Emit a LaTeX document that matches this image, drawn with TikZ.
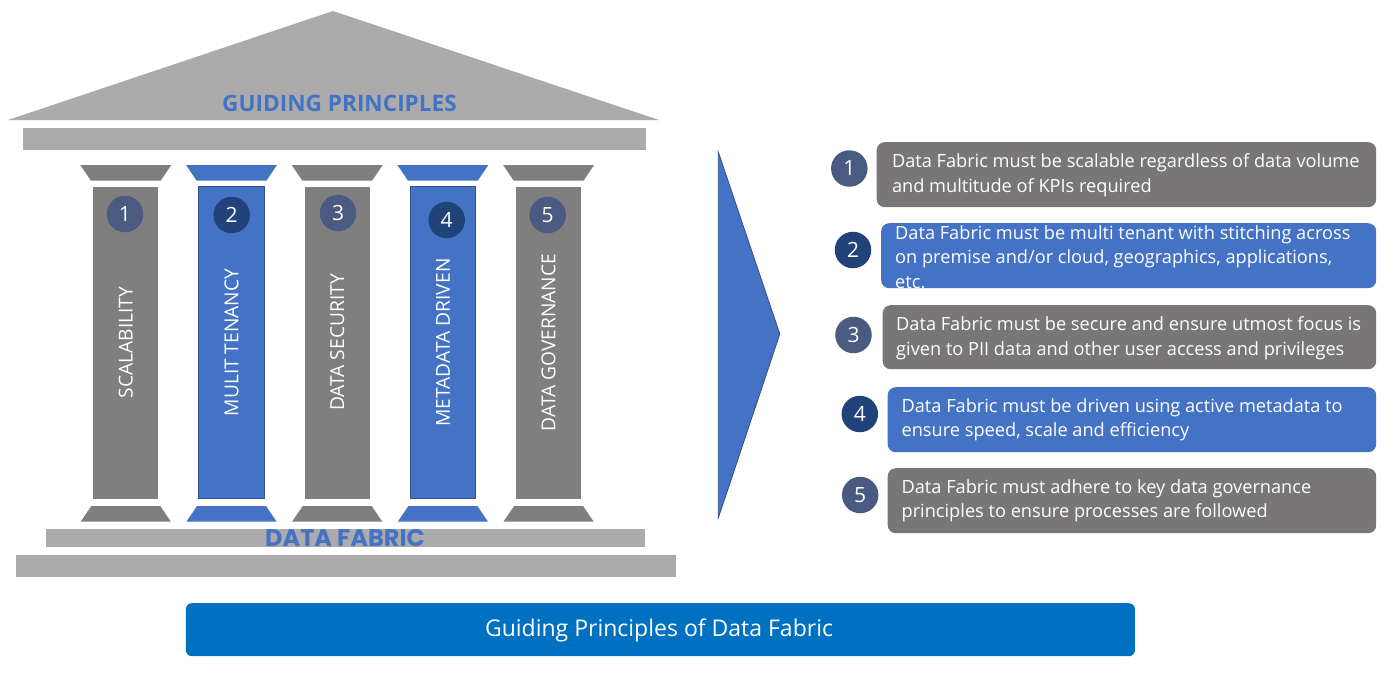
\documentclass[tikz,border=0pt]{standalone}
\usepackage{fontspec}
\setmainfont{Open Sans}
\newfontfamily\geofont{Poppins}
\definecolor{roofgray}{HTML}{ABABAB}
\definecolor{colgray}{HTML}{7F7F7F}
\definecolor{boxgray}{HTML}{787676}
\definecolor{pblue}{HTML}{4472C4}
\definecolor{pblueline}{HTML}{2F528F}
\definecolor{navy}{HTML}{22427A}
\definecolor{slate}{HTML}{4A5A80}
\definecolor{bannerblue}{HTML}{0070C0}
\begin{document}
\begin{tikzpicture}[x=1pt,y=-1pt,
  shaft/.style={rectangle, inner sep=0pt, minimum width=65pt, minimum height=311.5pt},
  numdisc/.style={circle, inner sep=0pt, minimum size=36.5pt, text=white,
    font=\fontsize{21}{24}\selectfont},
  pillartext/.style={rotate=90, text=white, inner sep=0pt,
    font=\fontsize{19.2}{22}\selectfont},
  headline/.style={text=pblue, inner sep=0pt},
  infobox/.style={rectangle, rounded corners=8pt, inner sep=0pt, anchor=north west},
  boxtext/.style={text=white, align=left, anchor=west, inner sep=0pt,
    font=\fontsize{18.2}{24.5}\selectfont},
  bar/.style={rectangle, fill=roofgray, inner sep=0pt, anchor=north west}
]
\useasboundingbox (0,0) rectangle (1400,672);

% roof and entablature
\fill[roofgray] (8,120) -- (333,11) -- (659,120) -- cycle;
\node[headline, font=\fontsize{22.6}{26}\selectfont\bfseries] (roofttl) at (339.5,103) {GUIDING PRINCIPLES};
\node[bar, minimum width=623pt, minimum height=22pt] (entab) at (23,128) {};

% the five pillars: capital, shaft, base, number and label
\foreach \i/\cx/\fc/\cc/\ccx/\cy/\lab in {
  1/125.8/colgray/slate/125/214/SCALABILITY,
  2/231.5/pblue/navy/231.7/215/MULIT TENANCY,
  3/337.2/colgray/slate/338/213/DATA SECURITY,
  4/442.9/pblue/navy/446.7/220/METADATA DRIVEN,
  5/548.6/colgray/slate/547.7/215/DATA GOVERNANCE}{
  \fill[\fc] (\cx-45.5,165) -- (\cx+45.5,165) -- (\cx+35,180.5) -- (\cx-35,180.5) -- cycle;
  \fill[\fc] (\cx-34.5,506) -- (\cx+34.5,506) -- (\cx+45,521.5) -- (\cx-45,521.5) -- cycle;
  \node[shaft, fill=\fc] (shaft\i) at (\cx,342.75) {};
  \node[numdisc, fill=\cc] (disc\i) at (\ccx,\cy) {\i};
  \node[pillartext] (lab\i) at (\cx,342.5) {\lab};
}
\foreach \i in {2,4}{
  \draw[pblueline, line width=0.8pt] (shaft\i.north west) rectangle (shaft\i.south east);
}

% stylobate steps
\node[bar, minimum width=599pt, minimum height=18pt] (step1) at (45.5,529) {};
\node[headline, font=\geofont\fontsize{24}{27}\selectfont\bfseries] (basettl) at (345,538.5) {DATA FABRIC};
\node[bar, minimum width=660pt, minimum height=22.5pt] (step2) at (15.5,554.5) {};

% pointer towards the list
\filldraw[fill=pblue, draw=pblueline, line width=0.8pt]
  (718.3,152) -- (779.8,334) -- (718.3,518) -- cycle;

% principle boxes
\node[infobox, fill=boxgray, minimum width=499.5pt, minimum height=65pt] (box1) at (876.5,142) {};
\node[numdisc, fill=slate] (n1) at (849.3,168.5) {1};
\node[boxtext] (t1) at (891.8,175) {Data Fabric must be scalable regardless of data volume\\and multitude of KPIs required};

\node[infobox, fill=pblue, minimum width=495pt, minimum height=65pt] (box2) at (881,223) {};
\node[numdisc, fill=navy] (n2) at (853,250) {2};
\node[boxtext] (t2) at (895,257) {Data Fabric must be multi tenant with stitching across\\on premise and/or cloud, geographics, applications,\\etc.};

\node[infobox, fill=boxgray, minimum width=493.5pt, minimum height=64pt] (box3) at (882.5,305) {};
\node[numdisc, fill=slate] (n3) at (853.5,335) {3};
\node[boxtext] (t3) at (896,338) {Data Fabric must be secure and ensure utmost focus is\\given to PII data and other user access and privileges};

\node[infobox, fill=pblue, minimum width=488.5pt, minimum height=65pt] (box4) at (887.5,387) {};
\node[numdisc, fill=navy] (n4) at (859.8,414) {4};
\node[boxtext] (t4) at (901.4,420) {Data Fabric must be driven using active metadata to\\ensure speed, scale and efficiency};

\node[infobox, fill=boxgray, minimum width=488.5pt, minimum height=65pt] (box5) at (887.5,468) {};
\node[numdisc, fill=slate] (n5) at (860.2,495) {5};
\node[boxtext] (t5) at (901.4,501) {Data Fabric must adhere to key data governance\\principles to ensure processes are followed};

% caption banner
\node[infobox, fill=bannerblue, rounded corners=6pt, minimum width=949pt, minimum height=53pt] (banner) at (185.7,603) {};
\node[text=white, inner sep=0pt, font=\fontsize{23}{27}\selectfont] (bannertxt) at (659,630) {Guiding Principles of Data Fabric};
\end{tikzpicture}
\end{document}
